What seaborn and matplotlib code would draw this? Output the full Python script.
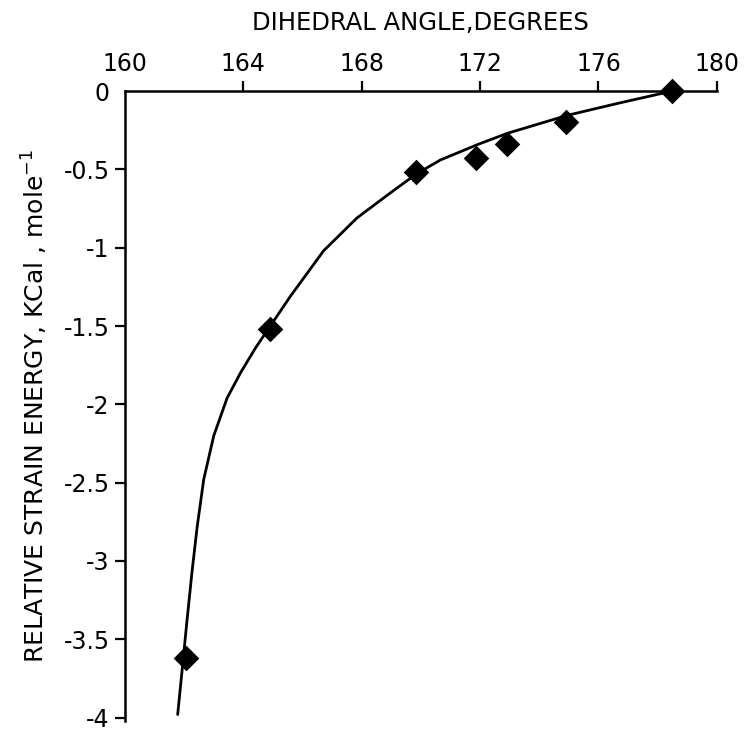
import matplotlib
matplotlib.use("Agg")
import matplotlib.pyplot as plt
import seaborn as sns
import pandas as pd

# Computed strain energies vs. dihedral angle
angle_pts = [162.05, 164.9, 169.85, 171.85, 172.9, 174.9, 178.5]
energy_pts = [-3.62, -1.52, -0.52, -0.43, -0.34, -0.2, 0.0]

# Smooth fitted curve through the points
curve_angle = [161.78, 161.96, 162.10, 162.27, 162.44, 162.66, 163.00, 163.45,
               163.90, 164.41, 164.91, 165.59, 166.71, 167.84, 168.97, 169.84,
               170.66, 171.94, 172.92, 174.95, 176.74, 178.5]
curve_energy = [-3.98, -3.64, -3.37, -3.06, -2.78, -2.48, -2.20, -1.96,
                -1.80, -1.64, -1.50, -1.31, -1.02, -0.81, -0.65, -0.53,
                -0.44, -0.34, -0.27, -0.155, -0.075, 0.0]

x_ticks = [160, 164, 168, 172, 176, 180]
y_ticks = [0, -0.5, -1, -1.5, -2, -2.5, -3, -3.5, -4]
y_tick_labels = ["0", "-0.5", "-1", "-1.5", "-2", "-2.5", "-3", "-3.5", "-4"]

sns.set_style("ticks")
plt.rcParams["font.family"] = ["DejaVu Sans"]

fig = plt.figure(figsize=(7.53, 7.34), dpi=100)
ax = fig.add_axes([0.166, 0.018, 0.786, 0.858])

pts = pd.DataFrame({"angle": angle_pts, "energy": energy_pts})
curve = pd.DataFrame({"angle": curve_angle, "energy": curve_energy})

sns.lineplot(data=curve, x="angle", y="energy", sort=False, estimator=None,
             color="black", linewidth=2.0, ax=ax)
sns.scatterplot(data=pts, x="angle", y="energy", marker="D", s=170,
                color="black", edgecolor="black", linewidth=0, ax=ax,
                zorder=3, clip_on=False)

ax.set_xlim(160, 180)
ax.set_ylim(-4.02, 0)
ax.xaxis.tick_top()
ax.xaxis.set_label_position("top")
ax.set_xticks(x_ticks)
ax.set_xticklabels([str(t) for t in x_ticks])
ax.set_yticks(y_ticks)
ax.set_yticklabels(y_tick_labels)

for side in ["right", "bottom"]:
    ax.spines[side].set_visible(False)
for side in ["top", "left"]:
    ax.spines[side].set_linewidth(1.8)
    ax.spines[side].set_color("black")

ax.tick_params(axis="both", direction="out", length=7, width=1.6,
               labelsize=17, colors="black", pad=4)

# no tick marks at the shared corner
ax.xaxis.get_major_ticks()[0].tick2line.set_visible(False)
ax.yaxis.get_major_ticks()[0].tick1line.set_visible(False)

ax.set_xlabel("DIHEDRAL ANGLE,DEGREES", fontsize=17.5, labelpad=16,
              color="black")
ax.set_ylabel("RELATIVE STRAIN ENERGY, KCal , mole$^{-1}$", fontsize=18,
              labelpad=10, color="black")

fig.savefig("out.png", dpi=100, facecolor="white")
